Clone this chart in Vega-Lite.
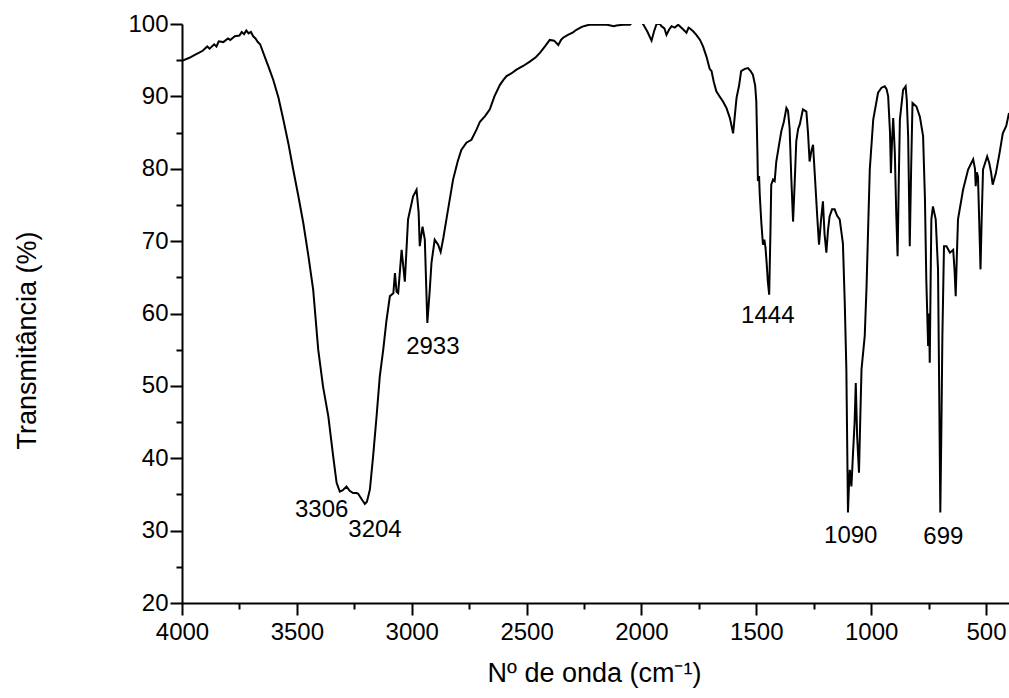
{
 "$schema": "https://vega.github.io/schema/vega-lite/v6.json",
 "autosize": {"type": "none"},
 "padding": {"left": 182, "top": 24, "right": 0, "bottom": 95},
 "width": 827,
 "height": 579,
 "background": "white",
 "config": {
  "view": {"stroke": null},
  "font": "Liberation Sans",
  "axis": {
   "grid": false,
   "domainColor": "black",
   "domainWidth": 2,
   "tickColor": "black",
   "tickWidth": 2,
   "labelColor": "black",
   "labelFont": "Liberation Sans",
   "labelFontSize": 24,
   "titleFont": "Liberation Sans",
   "titleFontSize": 27,
   "titleFontWeight": "normal",
   "titleColor": "black"
  }
 },
 "datasets": {
  "spectrum": [
   {"w":4000,"t":94.9},{"w":3970,"t":95.3},{"w":3940,"t":95.8},{"w":3910,"t":96.3},{"w":3890,"t":96.9},{"w":3880,"t":96.6},{"w":3860,"t":97.2},{"w":3850,"t":96.9},{"w":3840,"t":97.6},{"w":3820,"t":97.5},{"w":3800,"t":98.0},{"w":3790,"t":97.8},{"w":3770,"t":98.3},{"w":3750,"t":98.4},{"w":3740,"t":98.9},{"w":3730,"t":98.6},{"w":3720,"t":99.1},{"w":3710,"t":98.7},{"w":3700,"t":98.9},{"w":3690,"t":98.3},{"w":3680,"t":98.0},{"w":3670,"t":97.5},{"w":3660,"t":97.2},{"w":3640,"t":95.5},{"w":3620,"t":93.8},{"w":3603,"t":92.3},{"w":3580,"t":89.8},{"w":3559,"t":86.8},{"w":3537,"t":83.5},{"w":3516,"t":79.9},{"w":3494,"t":76.3},{"w":3472,"t":72.5},{"w":3450,"t":68.0},{"w":3429,"t":63.3},{"w":3407,"t":55.0},{"w":3386,"t":49.9},{"w":3363,"t":45.8},{"w":3342,"t":40.3},{"w":3327,"t":36.6},{"w":3313,"t":35.4},{"w":3300,"t":35.6},{"w":3284,"t":36.1},{"w":3270,"t":35.5},{"w":3255,"t":35.2},{"w":3240,"t":35.2},{"w":3233,"t":35.1},{"w":3215,"t":34.2},{"w":3204,"t":33.7},{"w":3195,"t":34.0},{"w":3182,"t":35.7},{"w":3168,"t":40.3},{"w":3153,"t":45.8},{"w":3139,"t":51.3},{"w":3124,"t":55.0},{"w":3110,"t":59.0},{"w":3095,"t":62.4},{"w":3080,"t":62.8},{"w":3073,"t":65.6},{"w":3066,"t":63.0},{"w":3059,"t":62.8},{"w":3044,"t":68.8},{"w":3030,"t":64.4},{"w":3016,"t":73.0},{"w":2994,"t":76.2},{"w":2979,"t":77.1},{"w":2970,"t":74.0},{"w":2965,"t":69.3},{"w":2953,"t":72.0},{"w":2943,"t":70.2},{"w":2932,"t":58.7},{"w":2922,"t":63.0},{"w":2914,"t":67.0},{"w":2900,"t":70.2},{"w":2885,"t":69.5},{"w":2874,"t":68.5},{"w":2862,"t":70.5},{"w":2849,"t":73.0},{"w":2820,"t":78.5},{"w":2800,"t":81.0},{"w":2784,"t":82.6},{"w":2762,"t":83.6},{"w":2740,"t":84.0},{"w":2718,"t":85.4},{"w":2703,"t":86.5},{"w":2680,"t":87.3},{"w":2660,"t":88.2},{"w":2640,"t":90.0},{"w":2616,"t":91.6},{"w":2600,"t":92.3},{"w":2587,"t":92.8},{"w":2565,"t":93.2},{"w":2544,"t":93.7},{"w":2515,"t":94.2},{"w":2486,"t":94.8},{"w":2460,"t":95.4},{"w":2442,"t":96.0},{"w":2420,"t":96.9},{"w":2399,"t":97.8},{"w":2380,"t":97.7},{"w":2362,"t":97.1},{"w":2350,"t":97.8},{"w":2341,"t":98.1},{"w":2320,"t":98.5},{"w":2300,"t":98.8},{"w":2283,"t":99.2},{"w":2260,"t":99.6},{"w":2240,"t":99.8},{"w":2225,"t":99.9},{"w":2180,"t":99.9},{"w":2150,"t":99.9},{"w":2120,"t":99.7},{"w":2109,"t":99.8},{"w":2080,"t":99.9},{"w":2050,"t":99.9},{"w":2035,"t":100.4},{"w":2010,"t":100.6},{"w":1993,"t":100.0},{"w":1975,"t":99.0},{"w":1956,"t":97.7},{"w":1945,"t":99.0},{"w":1934,"t":100.0},{"w":1920,"t":100.0},{"w":1913,"t":99.7},{"w":1900,"t":99.4},{"w":1891,"t":98.5},{"w":1880,"t":99.2},{"w":1869,"t":99.7},{"w":1855,"t":99.5},{"w":1840,"t":99.9},{"w":1820,"t":99.3},{"w":1804,"t":98.8},{"w":1795,"t":99.5},{"w":1790,"t":99.4},{"w":1775,"t":99.0},{"w":1761,"t":98.5},{"w":1745,"t":97.8},{"w":1732,"t":96.9},{"w":1717,"t":95.5},{"w":1703,"t":93.8},{"w":1695,"t":93.5},{"w":1685,"t":92.0},{"w":1674,"t":90.7},{"w":1660,"t":90.0},{"w":1645,"t":89.3},{"w":1630,"t":88.4},{"w":1615,"t":87.0},{"w":1601,"t":84.9},{"w":1593,"t":87.5},{"w":1586,"t":89.8},{"w":1575,"t":91.5},{"w":1566,"t":93.5},{"w":1550,"t":93.8},{"w":1536,"t":93.9},{"w":1525,"t":93.5},{"w":1515,"t":93.0},{"w":1505,"t":91.5},{"w":1500,"t":89.3},{"w":1495,"t":82.0},{"w":1493,"t":78.3},{"w":1488,"t":79.0},{"w":1485,"t":76.4},{"w":1478,"t":72.5},{"w":1471,"t":69.5},{"w":1465,"t":70.2},{"w":1460,"t":69.1},{"w":1455,"t":67.0},{"w":1450,"t":64.5},{"w":1444,"t":62.6},{"w":1438,"t":72.0},{"w":1435,"t":77.8},{"w":1427,"t":78.5},{"w":1420,"t":78.3},{"w":1413,"t":81.0},{"w":1400,"t":83.5},{"w":1391,"t":85.2},{"w":1380,"t":86.5},{"w":1369,"t":88.4},{"w":1362,"t":88.0},{"w":1355,"t":85.6},{"w":1348,"t":79.0},{"w":1340,"t":72.7},{"w":1333,"t":78.0},{"w":1326,"t":83.8},{"w":1318,"t":85.5},{"w":1311,"t":86.1},{"w":1297,"t":88.2},{"w":1282,"t":87.9},{"w":1275,"t":85.0},{"w":1268,"t":81.0},{"w":1260,"t":82.5},{"w":1253,"t":83.3},{"w":1245,"t":79.0},{"w":1235,"t":73.5},{"w":1227,"t":69.5},{"w":1218,"t":73.0},{"w":1210,"t":75.5},{"w":1203,"t":71.0},{"w":1195,"t":68.4},{"w":1188,"t":71.5},{"w":1181,"t":73.4},{"w":1170,"t":74.4},{"w":1159,"t":74.4},{"w":1148,"t":73.5},{"w":1137,"t":73.0},{"w":1123,"t":69.7},{"w":1115,"t":61.5},{"w":1108,"t":52.3},{"w":1101,"t":32.5},{"w":1097,"t":36.0},{"w":1093,"t":38.4},{"w":1086,"t":36.1},{"w":1079,"t":40.7},{"w":1072,"t":45.0},{"w":1067,"t":50.4},{"w":1061,"t":43.0},{"w":1053,"t":38.0},{"w":1047,"t":46.0},{"w":1042,"t":52.3},{"w":1035,"t":54.6},{"w":1028,"t":56.9},{"w":1020,"t":63.8},{"w":1013,"t":72.0},{"w":1006,"t":79.9},{"w":991,"t":86.8},{"w":970,"t":90.5},{"w":955,"t":91.2},{"w":941,"t":91.4},{"w":933,"t":91.0},{"w":926,"t":90.0},{"w":918,"t":85.0},{"w":914,"t":79.4},{"w":909,"t":84.0},{"w":904,"t":87.0},{"w":897,"t":82.2},{"w":891,"t":74.0},{"w":885,"t":67.9},{"w":880,"t":78.0},{"w":875,"t":86.8},{"w":861,"t":90.9},{"w":850,"t":91.4},{"w":845,"t":89.5},{"w":839,"t":84.5},{"w":835,"t":76.0},{"w":832,"t":69.3},{"w":826,"t":80.0},{"w":820,"t":89.1},{"w":803,"t":88.6},{"w":788,"t":87.2},{"w":774,"t":84.5},{"w":766,"t":76.0},{"w":760,"t":64.7},{"w":752,"t":55.5},{"w":748,"t":60.0},{"w":745,"t":53.2},{"w":741,"t":65.0},{"w":738,"t":73.0},{"w":731,"t":74.8},{"w":719,"t":73.0},{"w":709,"t":66.1},{"w":704,"t":50.0},{"w":699,"t":32.5},{"w":694,"t":45.0},{"w":690,"t":56.9},{"w":683,"t":69.3},{"w":672,"t":69.3},{"w":657,"t":68.4},{"w":643,"t":68.8},{"w":637,"t":66.0},{"w":632,"t":62.4},{"w":627,"t":68.0},{"w":622,"t":73.0},{"w":600,"t":77.1},{"w":578,"t":79.9},{"w":556,"t":81.3},{"w":548,"t":80.0},{"w":545,"t":77.6},{"w":540,"t":79.5},{"w":535,"t":78.9},{"w":529,"t":72.0},{"w":524,"t":66.1},{"w":519,"t":73.0},{"w":513,"t":79.9},{"w":495,"t":81.7},{"w":486,"t":80.8},{"w":478,"t":79.5},{"w":471,"t":77.8},{"w":457,"t":79.4},{"w":441,"t":82.2},{"w":427,"t":84.9},{"w":412,"t":85.9},{"w":400,"t":87.7}
  ],
  "peaks": [
   {"label":"3306","w":3392,"t":32.9},
   {"label":"3204","w":3160,"t":30.1},
   {"label":"2933","w":2908,"t":55.4},
   {"label":"1444","w":1450,"t":59.7},
   {"label":"1090","w":1089,"t":29.2},
   {"label":"699","w":686,"t":29.1}
  ]
 },
 "layer": [
  {
   "data": {"name": "spectrum"},
   "mark": {"type": "line", "color": "black", "strokeWidth": 2, "clip": true},
   "encoding": {
    "x": {"field": "w", "type": "quantitative",
     "scale": {"domain": [400, 4000], "reverse": true, "nice": false, "zero": false},
     "axis": {"orient": "bottom", "values": [4000,3500,3000,2500,2000,1500,1000,500], "format": "d", "tickSize": 12, "labelPadding": 5, "labelFlush": false, "labelOverlap": false,
      "title": "Nº de onda (cm⁻¹)", "titleX": 412, "titleY": 70, "titleAlign": "center", "titleBaseline": "middle"}},
    "y": {"field": "t", "type": "quantitative",
     "scale": {"domain": [20, 100], "nice": false, "zero": false},
     "axis": {"orient": "left", "values": [20,30,40,50,60,70,80,90,100], "format": "d", "tickSize": 12, "labelPadding": 2, "labelFlush": false, "labelOverlap": false,
      "title": "Transmitância (%)", "titleX": -155, "titleY": 316, "titleAngle": -90, "titleAlign": "center", "titleBaseline": "middle"}}
   }
  },
  {
   "data": {"name": "peaks"},
   "mark": {"type": "text", "fontSize": 24, "font": "Liberation Sans", "color": "black", "baseline": "middle", "align": "center"},
   "encoding": {
    "x": {"field": "w", "type": "quantitative",
     "axis": {"orient": "bottom", "values": [3750,3250,2750,2250,1750,1250,750], "tickSize": 6, "labels": false, "domain": false, "title": null}},
    "y": {"field": "t", "type": "quantitative",
     "axis": {"orient": "left", "values": [25,35,45,55,65,75,85,95], "tickSize": 6, "labels": false, "domain": false, "title": null}},
    "text": {"field": "label"}
   }
  }
 ],
 "resolve": {"axis": {"x": "independent", "y": "independent"}}
}
